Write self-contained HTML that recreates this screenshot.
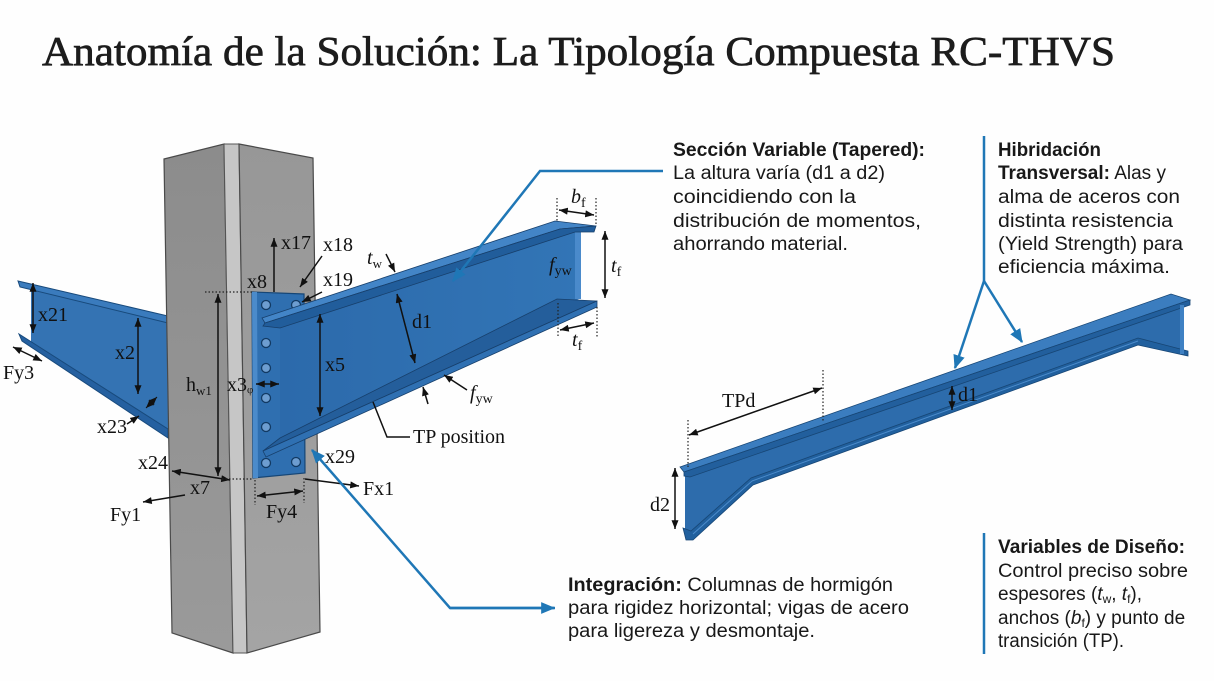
<!DOCTYPE html>
<html><head><meta charset="utf-8">
<style>
html,body{margin:0;padding:0;background:#fff;}
svg{display:block}
.s{font-family:"Liberation Serif",serif;font-size:20px;fill:#111}
.i{font-style:italic}
.b{font-family:"Liberation Sans",sans-serif;font-size:19px;fill:#181818}
.bb{font-weight:bold}
</style></head><body>
<svg width="1214" height="681" viewBox="0 0 1214 681" xmlns="http://www.w3.org/2000/svg">
<defs>
<marker id="a" viewBox="0 0 10 8" refX="10" refY="4" markerWidth="9" markerHeight="7" orient="auto-start-reverse" markerUnits="userSpaceOnUse"><path d="M0,0 L10,4 L0,8 z" fill="#111"/></marker>
<marker id="ba" viewBox="0 0 12 10" refX="11" refY="5" markerWidth="14" markerHeight="12" orient="auto" markerUnits="userSpaceOnUse"><path d="M0,0 L12,5 L0,10 z" fill="#1f77b6"/></marker>
<linearGradient id="cl" x1="0" y1="0" x2="0" y2="1"><stop offset="0" stop-color="#8c8c8c"/><stop offset="1" stop-color="#9a9a9a"/></linearGradient>
<linearGradient id="cr" x1="0" y1="0" x2="0" y2="1"><stop offset="0" stop-color="#979797"/><stop offset="1" stop-color="#a4a4a4"/></linearGradient>
<linearGradient id="web" x1="0" y1="0" x2="1" y2="0"><stop offset="0" stop-color="#2c6aab"/><stop offset="1" stop-color="#3275b6"/></linearGradient>
</defs>
<rect width="1214" height="681" fill="#fefefe"/>

<!-- Title -->
<text x="42" y="65" font-family="'Liberation Serif',serif" font-size="41" fill="#1c1c1c" stroke="#1c1c1c" stroke-width="0.7" textLength="1073" lengthAdjust="spacingAndGlyphs">Anatomía de la Solución: La Tipología Compuesta RC-THVS</text>

<!-- LEFT BEAM (behind column) -->
<polygon points="31,286 168,322 168,432 31,344" fill="#3473b3"/>
<polygon points="18,281 168,316 168,323 20,287" fill="#3a7bbd" stroke="#184a7c" stroke-width="1"/>
<polygon points="19,334 168,429 168,438 22,341" fill="#2560a0" stroke="#184a7c" stroke-width="1"/>

<!-- COLUMN -->
<polygon points="164,159 224,144 233,653 172,633" fill="url(#cl)" stroke="#4a4a4a" stroke-width="1.2"/>
<polygon points="224,144 239,144 247,653 233,653" fill="#c6c6c6" stroke="#555" stroke-width="1"/>
<polygon points="239,144 313,158 320,632 247,653" fill="url(#cr)" stroke="#4a4a4a" stroke-width="1.2"/>

<!-- END PLATE -->
<polygon points="252,292 304,294 305,473 253,478" fill="#2f6fb0" stroke="#164676" stroke-width="1.2"/>
<polygon points="252,292 257,292 258,478 253,478" fill="#4b8bcb"/>
<g fill="#6d9dd0" stroke="#123a63" stroke-width="1.3">
<circle cx="266" cy="305" r="4.5"/><circle cx="266" cy="343" r="4.5"/><circle cx="266" cy="368" r="4.5"/>
<circle cx="266" cy="398" r="4.5"/><circle cx="266" cy="427" r="4.5"/><circle cx="266" cy="463" r="4.5"/>
<circle cx="296" cy="305" r="4.5"/><circle cx="296" cy="462" r="4.5"/>
</g>

<!-- MAIN CANTILEVER BEAM -->
<polygon points="280,326 577,231 579,299 280,440" fill="url(#web)"/>
<rect x="575" y="231" width="6" height="68" fill="#4a8acb"/>
<polygon points="280,438 557,299 597,301 263,451" fill="#245e9b" stroke="#173f6b" stroke-width="0.8"/>
<polygon points="263,451 597,301 597,307 266,457" fill="#2f70b2" stroke="#173f6b" stroke-width="0.8"/>
<polygon points="262,318 555,221 596,226 560,229 265,323" fill="#4385c7" stroke="#173f6b" stroke-width="0.8"/>
<polygon points="265,323 560,229 596,226 594,232 575,232 280,328 263,326" fill="#215d9b" stroke="#173f6b" stroke-width="0.8"/>

<!-- LONG BEAM (right) -->
<polygon points="685,475 1183,305 1183,354 1138,342 751,482 691,536 685,532" fill="#2d6cac"/>
<polygon points="680,467 1171,294 1190,300 684,472" fill="#3b7dbf" stroke="#174675" stroke-width="0.8"/>
<polygon points="684,472 1190,300 1190,305 690,477 684,476" fill="#225f9d" stroke="#174675" stroke-width="0.8"/>
<polygon points="683,528 691,531 751,478 1138,338 1188,351 1188,356 1138,345 753,485 693,540 686,540" fill="#21609e" stroke="#174675" stroke-width="0.8"/>
<line x1="693" y1="534" x2="752" y2="481" stroke="#4b8bcb" stroke-width="1"/>
<line x1="752" y1="481" x2="1138" y2="341" stroke="#4b8bcb" stroke-width="1"/>
<rect x="1180" y="305" width="4" height="49" fill="#3f81c3"/>

<!-- BLACK DIMENSION LINES -->
<g stroke="#111" stroke-width="1.5" fill="none">
<line x1="274" y1="292" x2="274" y2="238" marker-end="url(#a)"/>
<line x1="322" y1="256" x2="300" y2="287" marker-end="url(#a)"/>
<line x1="322" y1="292" x2="302" y2="302" marker-end="url(#a)"/>
<line x1="218" y1="294" x2="218" y2="476" marker-start="url(#a)" marker-end="url(#a)"/>
<line x1="256" y1="384" x2="279" y2="384" marker-start="url(#a)" marker-end="url(#a)"/>
<line x1="320" y1="314" x2="320" y2="416" marker-start="url(#a)" marker-end="url(#a)"/>
<line x1="33" y1="283" x2="33" y2="333" marker-start="url(#a)" marker-end="url(#a)"/>
<line x1="138" y1="318" x2="138" y2="394" marker-start="url(#a)" marker-end="url(#a)"/>
<line x1="13" y1="347" x2="42" y2="361" marker-start="url(#a)" marker-end="url(#a)"/>
<line x1="127" y1="424" x2="139" y2="416" marker-end="url(#a)"/>
<line x1="146" y1="408" x2="157" y2="397" stroke-width="1" marker-start="url(#a)" marker-end="url(#a)"/>
<line x1="172" y1="471" x2="230" y2="480" marker-start="url(#a)" marker-end="url(#a)"/>
<line x1="185" y1="495" x2="143" y2="502" marker-end="url(#a)"/>
<line x1="257" y1="496" x2="303" y2="491" marker-start="url(#a)" marker-end="url(#a)"/>
<line x1="305" y1="479" x2="359" y2="486" marker-end="url(#a)"/>
<line x1="386" y1="254" x2="395" y2="272" marker-end="url(#a)"/>
<line x1="397" y1="294" x2="415" y2="363" marker-start="url(#a)" marker-end="url(#a)"/>
<line x1="467" y1="390" x2="444" y2="375" marker-end="url(#a)"/>
<line x1="428" y1="404" x2="423" y2="387" marker-end="url(#a)"/>
<polyline points="373,402 387,437 410,437"/>
<line x1="559" y1="210" x2="594" y2="215" marker-start="url(#a)" marker-end="url(#a)"/>
<line x1="605" y1="231" x2="605" y2="298" marker-start="url(#a)" marker-end="url(#a)"/>
<line x1="560" y1="330" x2="594" y2="323" marker-start="url(#a)" marker-end="url(#a)"/>
<line x1="689" y1="435" x2="822" y2="388" marker-start="url(#a)" marker-end="url(#a)"/>
<line x1="675" y1="468" x2="675" y2="529" marker-start="url(#a)" marker-end="url(#a)"/>
<line x1="952" y1="386" x2="952" y2="410" marker-start="url(#a)" marker-end="url(#a)"/>
</g>
<g stroke="#222" stroke-width="1.2" stroke-dasharray="1.5 2" fill="none">
<line x1="205" y1="292" x2="252" y2="292"/>
<line x1="222" y1="479" x2="253" y2="479"/>
<line x1="255" y1="480" x2="255" y2="505"/>
<line x1="304" y1="478" x2="304" y2="503"/>
<line x1="557" y1="198" x2="557" y2="221"/>
<line x1="596" y1="198" x2="596" y2="226"/>
<line x1="558" y1="303" x2="558" y2="337"/>
<line x1="597" y1="307" x2="597" y2="337"/>
<line x1="688" y1="420" x2="688" y2="467"/>
<line x1="823" y1="370" x2="823" y2="422"/>
</g>

<!-- SERIF LABELS -->
<text class="s" x="281" y="249">x17</text>
<text class="s" x="323" y="251">x18</text>
<text class="s" x="323" y="286">x19</text>
<text class="s" x="247" y="288">x8</text>
<text class="s" x="38" y="321">x21</text>
<text class="s" x="115" y="359">x2</text>
<text class="s" x="3" y="379">Fy3</text>
<text class="s" x="186" y="391">h<tspan font-size="13" dy="4">w1</tspan></text>
<text class="s" x="227" y="391">x3<tspan font-size="11" dy="2">φ</tspan></text>
<text class="s" x="325" y="371">x5</text>
<text class="s" x="97" y="433">x23</text>
<text class="s" x="138" y="469">x24</text>
<text class="s" x="190" y="494">x7</text>
<text class="s" x="110" y="521">Fy1</text>
<text class="s" x="266" y="518">Fy4</text>
<text class="s" x="363" y="495">Fx1</text>
<text class="s" x="325" y="463">x29</text>
<text class="s" x="367" y="264"><tspan class="i">t</tspan><tspan font-size="13" dy="4">w</tspan></text>
<text class="s" x="412" y="328">d1</text>
<text class="s" x="470" y="399"><tspan class="i">f</tspan><tspan font-size="14" dy="4">yw</tspan></text>
<text class="s" x="413" y="443">TP position</text>
<text class="s" x="571" y="203"><tspan class="i">b</tspan><tspan font-size="14" dy="4">f</tspan></text>
<text class="s" x="611" y="272"><tspan class="i">t</tspan><tspan font-size="14" dy="4">f</tspan></text>
<text class="s" x="549" y="271"><tspan class="i">f</tspan><tspan font-size="14" dy="4">yw</tspan></text>
<text class="s" x="572" y="346"><tspan class="i">t</tspan><tspan font-size="14" dy="4">f</tspan></text>
<text class="s" x="722" y="407">TPd</text>
<text class="s" x="650" y="511">d2</text>
<text class="s" x="958" y="401">d1</text>

<!-- BLUE CALLOUTS -->
<g stroke="#1f77b6" stroke-width="2.5" fill="none">
<polyline points="663,171 540,171 453,281" marker-end="url(#ba)"/>
<line x1="984" y1="136" x2="984" y2="281"/>
<line x1="984" y1="281" x2="955" y2="368" marker-end="url(#ba)"/>
<line x1="984" y1="281" x2="1022" y2="342" marker-end="url(#ba)"/>
<line x1="984" y1="533" x2="984" y2="654"/>
<polyline points="555,608 450,608 312,450" marker-end="url(#ba)"/>
<line x1="450" y1="608" x2="554" y2="608" marker-end="url(#ba)"/>
</g>

<!-- BODY TEXT: Sección Variable -->
<text class="b bb" x="673" y="156" textLength="252" lengthAdjust="spacingAndGlyphs">Sección Variable (Tapered):</text>
<text class="b" x="673" y="179" textLength="212" lengthAdjust="spacingAndGlyphs">La altura varía (d1 a d2)</text>
<text class="b" x="673" y="203" textLength="183" lengthAdjust="spacingAndGlyphs">coincidiendo con la</text>
<text class="b" x="673" y="227" textLength="248" lengthAdjust="spacingAndGlyphs">distribución de momentos,</text>
<text class="b" x="673" y="250" textLength="175" lengthAdjust="spacingAndGlyphs">ahorrando material.</text>

<!-- Hibridación -->
<text class="b bb" x="998" y="156" textLength="103" lengthAdjust="spacingAndGlyphs">Hibridación</text>
<text class="b" x="998" y="179"><tspan font-weight="bold">Transversal:</tspan> Alas y</text>
<text class="b" x="998" y="203" textLength="182" lengthAdjust="spacingAndGlyphs">alma de aceros con</text>
<text class="b" x="998" y="227" textLength="175" lengthAdjust="spacingAndGlyphs">distinta resistencia</text>
<text class="b" x="998" y="250" textLength="185" lengthAdjust="spacingAndGlyphs">(Yield Strength) para</text>
<text class="b" x="998" y="273" textLength="172" lengthAdjust="spacingAndGlyphs">eficiencia máxima.</text>

<!-- Integración -->
<text class="b" x="568" y="591" textLength="325" lengthAdjust="spacingAndGlyphs"><tspan font-weight="bold">Integración:</tspan> Columnas de hormigón</text>
<text class="b" x="568" y="614" textLength="341" lengthAdjust="spacingAndGlyphs">para rigidez horizontal; vigas de acero</text>
<text class="b" x="568" y="637" textLength="247" lengthAdjust="spacingAndGlyphs">para ligereza y desmontaje.</text>

<!-- Variables de Diseño -->
<text class="b bb" x="998" y="553" textLength="187" lengthAdjust="spacingAndGlyphs">Variables de Diseño:</text>
<text class="b" x="998" y="577" textLength="190" lengthAdjust="spacingAndGlyphs">Control preciso sobre</text>
<text class="b" x="998" y="600">espesores (<tspan font-style="italic">t</tspan><tspan font-size="12" dy="3">w</tspan><tspan dy="-3">, </tspan><tspan font-style="italic">t</tspan><tspan font-size="12" dy="3">f</tspan><tspan dy="-3">),</tspan></text>
<text class="b" x="998" y="624">anchos (<tspan font-style="italic">b</tspan><tspan font-size="12" dy="3">f</tspan><tspan dy="-3">) y punto de</tspan></text>
<text class="b" x="998" y="647" textLength="126" lengthAdjust="spacingAndGlyphs">transición (TP).</text>
</svg>
</body></html>
